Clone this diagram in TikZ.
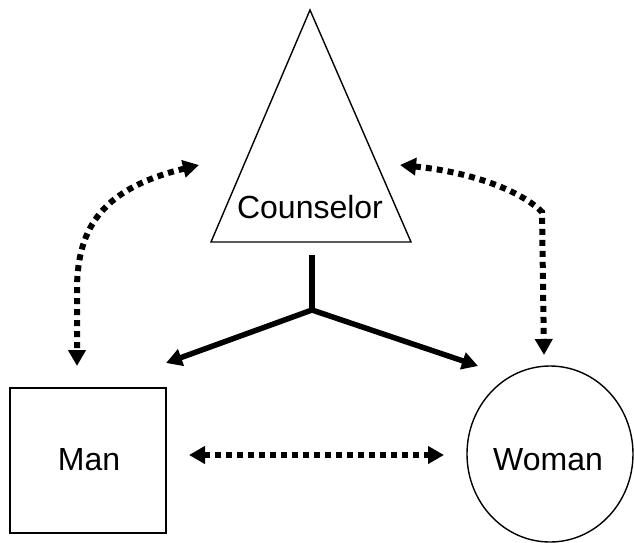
\documentclass[tikz,border=0pt]{standalone}
\usepackage{fontspec}
\setmainfont{Liberation Sans}
\usetikzlibrary{arrows.meta,shapes.geometric}
\begin{document}
\begin{tikzpicture}[x=1pt,y=-1pt,
  shapeline/.style={draw=black,line width=1.4pt},
  lbl/.style={font=\fontsize{32}{38}\selectfont,inner sep=0pt},
  solidarrow/.style={line width=5.5pt,-{Triangle[length=16pt,width=17pt]}},
  dotline/.style={line width=6pt,dash pattern=on 6pt off 5pt},
  dotarrow/.style={dotline,{Triangle[length=16pt,width=17pt]}-{Triangle[length=16pt,width=17pt]}}]
\useasboundingbox (0,0) rectangle (634,543);
% counselor triangle
\coordinate (apex) at (310,10);
\coordinate (bl) at (211,242);
\coordinate (br) at (411,242);
\draw[shapeline,line join=miter] (apex) -- (bl) -- (br) -- cycle;
\node[lbl] (counselor) at (310,207) {Counselor};
% man square
\node[shapeline,rectangle,minimum width=156pt,minimum height=145pt,inner sep=0pt] (man) at (88,460.5) {};
\node[lbl] (manl) at (89,460) {Man};
% woman circle
\node[shapeline,ellipse,minimum width=166pt,minimum height=176pt,inner sep=0pt] (woman) at (550,454) {};
\node[lbl] (womanl) at (548,460) {Woman};
% solid fork
\coordinate (stem) at (312,255);
\coordinate (fork) at (312,310);
\coordinate (tipm) at (166,363);
\coordinate (tipw) at (478,366);
\draw[line width=5.5pt] (stem) -- (fork);
\draw[solidarrow] (fork) -- (tipm);
\draw[solidarrow] (fork) -- (tipw);
% dotted arrows
\coordinate (lt) at (199,165);
\coordinate (lb) at (77,366);
\coordinate (lk) at (77,290);
\draw[dotarrow] (lt) .. controls (105,188) and (77,225) .. (lk) -- (lb);
\coordinate (rt) at (400,165);
\coordinate (rk) at (542,212);
\coordinate (rb) at (544,355);
\draw[dotarrow] (rt) .. controls (470,172) and (520,190) .. (rk) -- (rb);
\coordinate (hl) at (189,455);
\coordinate (hr) at (444,455);
\draw[dotarrow] (hl) -- (hr);
\end{tikzpicture}
\end{document}
